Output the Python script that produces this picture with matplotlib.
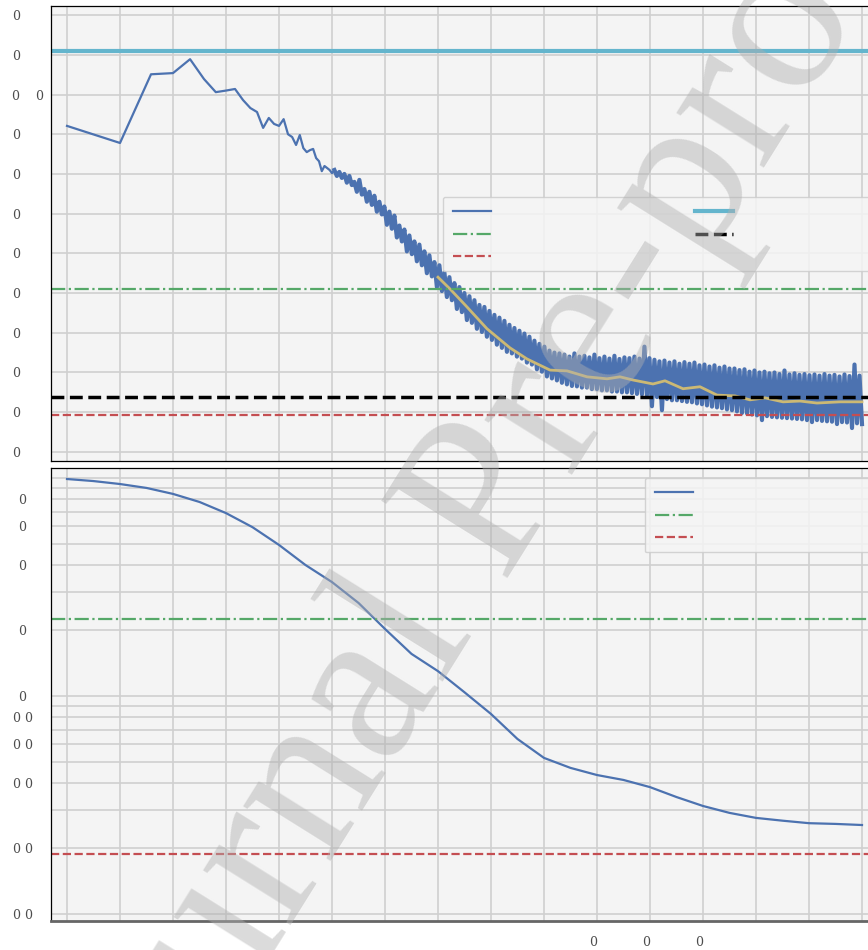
import numpy as np
import matplotlib.pyplot as plt
from matplotlib.ticker import FixedLocator, NullLocator

# ---- top panel: training curve (y in grid units), x = step on a log2 axis
early_steps = list(range(1, 33))
early_loss = [8.21, 7.78, 9.51, 9.54, 9.89, 9.39, 9.06, 9.10, 9.14, 8.86,
              8.66, 8.56, 8.16, 8.41, 8.26, 8.21, 8.38, 8.00, 7.93, 7.73,
              7.98, 7.65, 7.55, 7.60, 7.63, 7.40, 7.32, 7.07, 7.20, 7.15,
              7.10, 7.02]

# values read at even spacing along the log axis, step 33 .. 32768
dense_loss = [
    7.10, 6.95, 7.05, 6.90, 7.00, 6.78, 6.95, 6.72, 6.80, 6.55, 6.85, 6.48,
    6.62, 6.30, 6.55, 6.22, 6.45, 6.05, 6.30, 5.98, 6.18, 5.72, 6.05, 5.62,
    5.95, 5.40, 5.70, 5.30, 5.60, 5.05, 5.45, 4.98, 5.30, 4.80, 5.22, 4.70,
    5.05, 4.50, 4.95, 4.42, 4.78, 4.15, 4.70, 4.05, 4.52, 3.90, 4.40, 3.82,
    4.25, 3.60, 4.15, 3.52, 4.00, 3.32, 3.92, 3.25, 3.82, 3.10, 3.70, 3.02,
    3.65, 2.90, 3.55, 2.82, 3.45, 2.70, 3.38, 2.62, 3.30, 2.52, 3.20, 2.48,
    3.12, 2.40, 3.05, 2.35, 2.98, 2.25, 2.90, 2.20, 2.80, 2.08, 2.72, 2.02,
    2.65, 1.90, 2.55, 1.85, 2.50, 1.80, 2.48, 1.74, 2.45, 1.70, 2.40, 1.66,
    2.48, 1.65, 2.40, 1.62, 2.42, 1.62, 2.38, 1.58, 2.45, 1.58, 2.36, 1.55,
    2.40, 1.55, 2.35, 1.52, 2.42, 1.52, 2.34, 1.50, 2.38, 1.50, 2.36, 1.48,
    2.40, 1.46, 2.35, 1.45, 2.65, 1.43, 2.36, 1.15, 2.32, 1.38, 2.28, 1.05,
    2.30, 1.33, 2.25, 1.30, 2.28, 1.30, 2.22, 1.28, 2.26, 1.26, 2.22, 1.25,
    2.25, 1.22, 2.18, 1.20, 2.20, 1.17, 2.15, 1.14, 2.18, 1.12, 2.12, 1.10,
    2.15, 1.07, 2.10, 1.05, 2.10, 1.02, 2.06, 0.98, 2.08, 0.97, 2.02, 0.94,
    2.05, 0.92, 2.00, 0.80, 2.02, 0.90, 1.98, 0.88, 2.00, 0.87, 1.96, 0.86,
    2.05, 0.85, 1.95, 0.84, 1.98, 0.83, 1.94, 0.82, 1.96, 0.80, 1.93, 0.75,
    1.95, 0.80, 1.92, 0.78, 1.96, 0.77, 1.92, 0.76, 1.94, 0.70, 1.90, 0.75,
    1.95, 0.74, 1.91, 0.60, 2.20, 0.72, 1.92, 0.70]

avg_steps = [128, 150, 187, 243, 328, 410, 554, 692, 898, 1167, 1383, 1639,
             2130, 2492, 3154, 3937, 4918, 6225, 7575, 9216, 11660, 14560,
             18170, 24570, 32768]
avg_loss = [4.40, 4.10, 3.65, 3.10, 2.62, 2.34, 2.06, 2.04, 1.89, 1.84, 1.89,
            1.81, 1.71, 1.79, 1.59, 1.64, 1.43, 1.41, 1.31, 1.36, 1.26, 1.28,
            1.23, 1.26, 1.26]

cyan_level = 10.1
green_level = 4.1
black_level = 1.39
red_level = 0.93

top_ytick_labels = ['0', '0', '0', '0', '0', '0', '0', '0', '0',
                    '0    0', '0', '0']

# ---- bottom panel: smooth curve on log y
curve_steps = [1, 1.41, 2, 2.83, 4, 5.66, 8, 11.3, 16, 22.6, 32, 45.3, 64,
               90.5, 128, 181, 256, 362, 512, 724, 1024, 1448, 2048, 2896,
               4096, 5793, 8192, 11585, 16384, 23170, 32768]
curve_vals = [0.989, 0.968, 0.938, 0.900, 0.845, 0.776, 0.690, 0.595, 0.493,
              0.399, 0.333, 0.267, 0.203, 0.156, 0.130, 0.104, 0.0827,
              0.0635, 0.0520, 0.0468, 0.0434, 0.0412, 0.0382, 0.0344, 0.0313,
              0.0291, 0.0276, 0.0268, 0.0261, 0.0259, 0.0256]
green_low = 0.2256
red_low = 0.0188

low_yticks = [0.01, 0.02, 0.03, 0.04, 0.05, 0.06, 0.07, 0.08, 0.09,
              0.1, 0.2, 0.3, 0.4, 0.5, 0.6, 0.7, 0.8, 0.9, 1.0]
low_ytick_labels = ['0 0', '0 0', '', '0 0', '', '0 0', '', '0 0', '',
                    '0', '0', '', '0', '', '0', '', '0', '', '']

xticks = [2 ** k for k in range(16)]
low_xtick_labels = ['' for k in range(16)]
low_xtick_labels[10] = '0'
low_xtick_labels[11] = '0'
low_xtick_labels[12] = '0'

blue = '#4c72b0'
green = '#55a868'
red = '#c44e52'
cyan = '#64b5cd'
gold = '#ccb974'
grid_c = '#cfcfcf'
face = '#f4f4f4'
tick_font = dict(family='DejaVu Serif', size=9, color='0.3')
leg_kw = dict(fontsize=6, handlelength=4.6, handletextpad=0.5,
              labelspacing=1.64, borderpad=1.2, borderaxespad=0,
              loc='upper left')

fig = plt.figure(figsize=(8.68, 9.5), dpi=100)
W, H = 868.0, 950.0
ax1 = fig.add_axes([51 / W, 1 - 461 / H, (877 - 51) / W, (461 - 6) / H])
ax2 = fig.add_axes([51 / W, 1 - 921 / H, (877 - 51) / W, (921 - 468) / H])

for ax in (ax1, ax2):
    ax.set_facecolor(face)
    ax.set_xscale('log', base=2)
    ax.set_xlim(2 ** -0.302, 2 ** 15.283)
    ax.xaxis.set_major_locator(FixedLocator(xticks))
    ax.xaxis.set_minor_locator(NullLocator())
    ax.grid(True, color=grid_c, linewidth=1.2)
    ax.set_axisbelow(True)
    for s in ax.spines.values():
        s.set_color('black')
        s.set_linewidth(0.9)

# top panel
dense_steps = np.geomspace(33, 32768, len(dense_loss))
h_blue, = ax1.plot(early_steps + [dense_steps[0]],
                   early_loss + [dense_loss[0]], color=blue, lw=1.6)
ax1.plot(dense_steps, dense_loss, color=blue, lw=3.0)
ax1.plot(avg_steps, avg_loss, color=gold, lw=2.0)
h_green = ax1.axhline(green_level, color=green, lw=1.6, ls='-.')
h_red = ax1.axhline(red_level, color=red, lw=1.6, ls='--')
h_cyan = ax1.axhline(cyan_level, color=cyan, lw=3.0)
h_black = ax1.axhline(black_level, color='black', lw=2.5, ls='--')

ax1.set_ylim(-0.23, 11.23)
ax1.set_yticks(range(12))
ax1.set_yticklabels(top_ytick_labels, ha='left', **tick_font)
ax1.tick_params(axis='y', length=0, pad=28)
ax1.set_xticklabels([])
ax1.tick_params(axis='x', length=0)

# legend: framed first column, second column laid over it
leg_a = ax1.legend([h_blue, h_green, h_red], [''] * 3, mode='expand',
                   bbox_to_anchor=(0.4746, 0.5802, 0.56, 0.0),
                   fancybox=True, framealpha=0.85, facecolor=face,
                   edgecolor='#cccccc', **leg_kw)
ax1.add_artist(leg_a)
ax1.legend([h_cyan, h_black], [''] * 2, bbox_to_anchor=(0.7676, 0.5802),
           frameon=False, **leg_kw)

# bottom panel
h2_blue, = ax2.plot(curve_steps, curve_vals, color=blue, lw=1.6)
h2_green = ax2.axhline(green_low, color=green, lw=1.6, ls='-.')
h2_red = ax2.axhline(red_low, color=red, lw=1.6, ls='--')
ax2.set_yscale('log')
ax2.set_ylim(0.00929, 1.111)
ax2.yaxis.set_major_locator(FixedLocator(low_yticks))
ax2.yaxis.set_minor_locator(NullLocator())
ax2.set_yticklabels(low_ytick_labels, ha='center', **tick_font)
ax2.tick_params(axis='y', length=0, pad=20.5)
ax2.set_xticklabels(low_xtick_labels, ha='right', **tick_font)
ax2.tick_params(axis='x', length=0, pad=10.5)
ax2.spines['bottom'].set_color('#666666')
ax2.spines['bottom'].set_linewidth(2.0)

ax2.legend([h2_blue, h2_green, h2_red], [''] * 3, mode='expand',
           bbox_to_anchor=(0.719, 0.978, 0.4, 0.0), fancybox=True,
           framealpha=0.85, facecolor=face, edgecolor='#cccccc', **leg_kw)

# watermark
fig.text(0.5713, 0.4799, 'Journal Pre-proof', rotation=58, fontsize=162,
         family='Liberation Serif', color='#b0b0b0', alpha=0.45,
         ha='center', va='center', zorder=10)

fig.savefig('out.png', dpi=100)
